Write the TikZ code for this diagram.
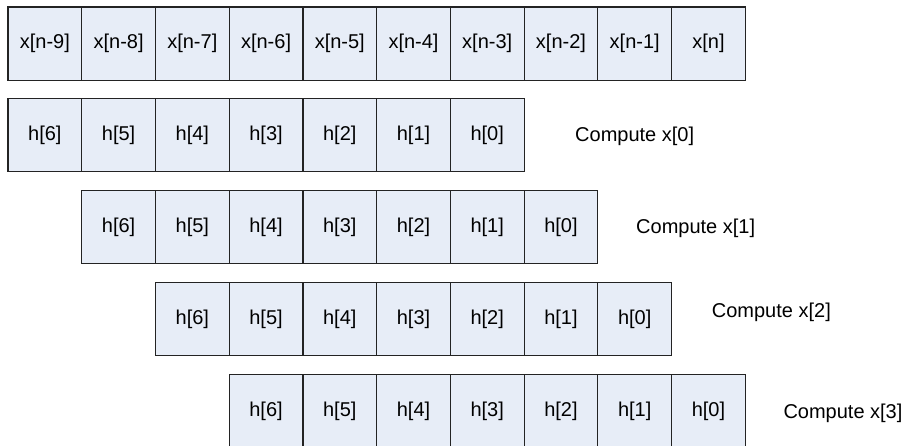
\documentclass[tikz,border=0pt]{standalone}
\usepackage{fontspec}
\setmainfont{Liberation Sans}
\definecolor{cellfill}{RGB}{231,237,247}
\definecolor{celldraw}{RGB}{35,35,35}
\begin{document}
\begin{tikzpicture}[x=1pt,y=-1pt,
  cell/.style={draw=celldraw, fill=cellfill, line width=1.2pt, minimum width=73.73pt, minimum height=73.3pt, inner sep=0pt, outer sep=0pt, anchor=north west, font=\fontsize{20}{24}\selectfont},
  lab/.style={anchor=base west, inner sep=0pt, font=\fontsize{20}{24}\selectfont}]
\useasboundingbox (0,0) rectangle (908,445);
\foreach \i/\t in {0/x[n-9],1/x[n-8],2/x[n-7],3/x[n-6],4/x[n-5],5/x[n-4],6/x[n-3],7/x[n-2],8/x[n-1],9/x[n]}
  \node[cell] (x\i) at ({8+73.73*\i},7) {\t};
\foreach \k in {0,...,3}
  \foreach \j in {0,...,6} {
    \pgfmathtruncatemacro\hh{6-\j}
    \node[cell] (h\k-\j) at ({8+73.73*(\k+\j)},{98.3+92.1*\k}) {h[\hh]};
  }
\node[lab] (l0) at (575,141.7) {Compute x[0]};
\node[lab] (l1) at (636,233.3) {Compute x[1]};
\node[lab] (l2) at (711.7,317.7) {Compute x[2]};
\node[lab] (l3) at (783.3,418) {Compute x[3]};
\end{tikzpicture}
\end{document}
